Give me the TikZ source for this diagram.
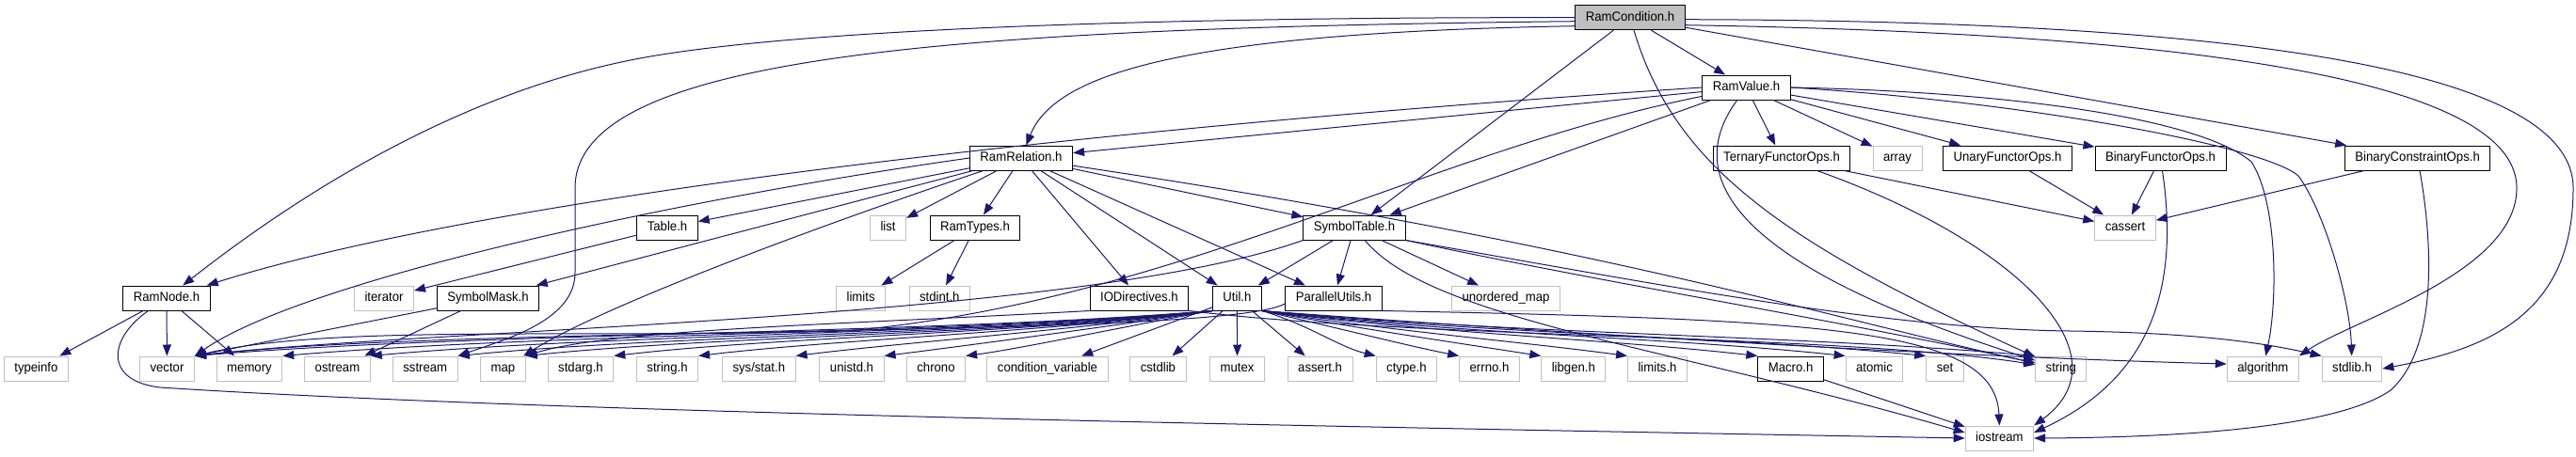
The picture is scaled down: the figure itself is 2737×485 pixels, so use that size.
\documentclass[tikz,border=0pt]{standalone}
\usepackage{fontspec}
\setmainfont{Liberation Sans}[FakeStretch=0.94]
\usetikzlibrary{arrows.meta}
\definecolor{edgeblue}{HTML}{191970}
\definecolor{greybox}{HTML}{BFBFBF}

\begin{document}
\begin{tikzpicture}[x=1pt,y=1pt,
  hdr/.style={draw=black,fill=white,line width=1pt,inner xsep=11pt,inner ysep=6.5pt,
    text height=10pt,text depth=3pt,font=\fontsize{14}{16}\selectfont},
  syshdr/.style={hdr,draw=greybox},
  roothdr/.style={hdr,fill=greybox},
  incl/.style={draw=edgeblue,line width=1pt,-{Triangle[length=12pt,width=9pt]}}]
  \useasboundingbox (0,0) rectangle (2737,-485);
  % row 0 and 1
  \node[roothdr] (rcond) at (1732,-18.7) {RamCondition.h};
  \node[hdr] (rvalue) at (1855.5,-93) {RamValue.h};
  % row 2
  \node[hdr] (rrel) at (1085,-168) {RamRelation.h};
  \node[hdr] (ternary) at (1893,-168) {TernaryFunctorOps.h};
  \node[syshdr] (arrayh) at (2016,-168) {array};
  \node[hdr] (unary) at (2133,-168) {UnaryFunctorOps.h};
  \node[hdr] (binary) at (2295.5,-168) {BinaryFunctorOps.h};
  \node[hdr] (bconstr) at (2568.6,-168) {BinaryConstraintOps.h};
  % row 3
  \node[hdr] (table) at (709,-242) {Table.h};
  \node[syshdr] (listh) at (943.6,-242) {list};
  \node[hdr] (rtypes) at (1036,-242) {RamTypes.h};
  \node[hdr] (symtab) at (1439,-242) {SymbolTable.h};
  \node[syshdr] (cassert) at (2258,-242) {cassert};
  % row 4
  \node[hdr] (rnode) at (177,-317) {RamNode.h};
  \node[syshdr] (iterator) at (408,-317) {iterator};
  \node[hdr] (symmask) at (518.5,-317) {SymbolMask.h};
  \node[syshdr] (limits) at (914.6,-317) {limits};
  \node[syshdr] (stdint) at (998.3,-317) {stdint.h};
  \node[hdr] (iodir) at (1210.4,-317) {IODirectives.h};
  \node[hdr] (util) at (1314.4,-317) {Util.h};
  \node[hdr] (parutil) at (1417,-317) {ParallelUtils.h};
  \node[syshdr] (umap) at (1600,-317) {unordered\_map};
  % row 5
  \node[syshdr] (typeinfo) at (38.4,-392) {typeinfo};
  \node[syshdr] (vector) at (177.5,-392) {vector};
  \node[syshdr] (memory) at (265,-392) {memory};
  \node[syshdr] (ostream) at (358.5,-392) {ostream};
  \node[syshdr] (sstream) at (451.8,-392) {sstream};
  \node[syshdr] (map) at (534.4,-392) {map};
  \node[syshdr] (stdarg) at (617,-392) {stdarg.h};
  \node[syshdr] (stringh) at (709,-392) {string.h};
  \node[syshdr] (sysstat) at (806.3,-392) {sys/stat.h};
  \node[syshdr] (unistd) at (905,-392) {unistd.h};
  \node[syshdr] (chrono) at (994.5,-392) {chrono};
  \node[syshdr] (condvar) at (1113,-392) {condition\_variable};
  \node[syshdr] (cstdlib) at (1230.4,-392) {cstdlib};
  \node[syshdr] (mutex) at (1314.6,-392) {mutex};
  \node[syshdr] (asserth) at (1402.6,-392) {assert.h};
  \node[syshdr] (ctype) at (1494.4,-392) {ctype.h};
  \node[syshdr] (errno) at (1582.5,-392) {errno.h};
  \node[syshdr] (libgen) at (1671.8,-392) {libgen.h};
  \node[syshdr] (limitsh) at (1761,-392) {limits.h};
  \node[hdr] (macro) at (1902.6,-392) {Macro.h};
  \node[syshdr] (atomic) at (1991.5,-392) {atomic};
  \node[syshdr] (set) at (2066.5,-392) {set};
  \node[syshdr] (string) at (2189.8,-392) {string};
  \node[syshdr] (algorithm) at (2404.3,-392) {algorithm};
  \node[syshdr] (stdlib) at (2499,-392) {stdlib.h};
  % row 6
  \node[syshdr] (iostream) at (2124.4,-466) {iostream};

  % RamCondition.h
  \draw[incl] (rcond.west) .. controls (1250,-18) and (852,-30) .. (680,-62) .. controls (465,-102) and (283,-234) .. (rnode);
  \draw[incl] ([yshift=-9pt]rcond.west) .. controls (1250,-35) and (1120,-80) .. (rrel);
  \draw[incl] ([yshift=-4pt]rcond.west) .. controls (1000,-30) and (611,-60) .. (611,-200) -- (611,-290) .. controls (611,-340) and (540,-360) .. (sstream.north east);
  \draw[incl] (rcond) -- (symtab);
  \draw[incl] (rcond) -- (rvalue);
  \draw[incl] (rcond) .. controls (1780,-180) and (1900,-260) .. (string);
  \draw[incl] (rcond) -- (bconstr);
  \draw[incl] ([yshift=-8pt]rcond.east) .. controls (2300,-35) and (2674,-80) .. (2674,-200) .. controls (2674,-290) and (2500,-340) .. (algorithm.north east);
  \draw[incl] ([yshift=-2pt]rcond.east) .. controls (2300,-22) and (2734,-60) .. (2734,-200) .. controls (2734,-330) and (2650,-370) .. (stdlib.east);

  % RamValue.h
  \draw[incl] (rvalue.west) .. controls (1100,-140) and (500,-215) .. (rnode);
  \draw[incl] (rvalue) -- (rrel);
  \draw[incl] (rvalue) -- (symtab);
  \draw[incl] (rvalue) .. controls (1520,-160) and (1250,-320) .. (900,-352) .. controls (600,-360) and (350,-345) .. (vector.north east);
  \draw[incl] (rvalue) .. controls (1770,-210) and (1900,-300) .. (string);
  \draw[incl] (rvalue) -- (ternary);
  \draw[incl] (rvalue) -- (arrayh);
  \draw[incl] (rvalue) -- (unary);
  \draw[incl] (rvalue) -- (binary);
  \draw[incl] (rvalue.east) .. controls (2150,-98) and (2340,-128) .. (2392,-172) .. controls (2420,-215) and (2420,-320) .. (algorithm);
  \draw[incl] (rvalue.east) .. controls (2150,-108) and (2405,-155) .. (2442,-187) .. controls (2470,-225) and (2497,-320) .. (stdlib);

  % RamRelation.h
  \draw[incl] (rrel.west) .. controls (700,-215) and (320,-300) .. (vector.north east);
  \draw[incl] (rrel) -- (table);
  \draw[incl] (rrel) -- (symmask);
  \draw[incl] (rrel) .. controls (900,-230) and (650,-320) .. (map);
  \draw[incl] (rrel) -- (listh);
  \draw[incl] (rrel) -- (rtypes);
  \draw[incl] (rrel) -- (iodir);
  \draw[incl] (rrel) -- (util);
  \draw[incl] (rrel) -- (parutil);
  \draw[incl] (rrel) -- (symtab);
  \draw[incl] (rrel) .. controls (1700,-260) and (1950,-340) .. (string);

  % Table.h, RamTypes.h, SymbolMask.h, RamNode.h
  \draw[incl] (table) -- (iterator);
  \draw[incl] (rtypes) -- (limits);
  \draw[incl] (rtypes) -- (stdint);
  \draw[incl] (symmask) -- (vector.north east);
  \draw[incl] (symmask) -- (ostream);
  \draw[incl] (rnode) -- (typeinfo);
  \draw[incl] (rnode) -- (vector);
  \draw[incl] (rnode) -- (memory);
  \draw[incl] (rnode) .. controls (115,-360) and (110,-405) .. (170,-412) .. controls (600,-440) and (1500,-455) .. (iostream.west);

  % SymbolTable.h
  \draw[incl] (symtab) -- (util);
  \draw[incl] (symtab) -- (parutil);
  \draw[incl] (symtab) -- (umap);
  \draw[incl] (symtab.south west) .. controls (1150,-340) and (450,-350) .. (vector.north east);
  \draw[incl] (symtab) .. controls (1520,-340) and (1780,-370) .. ([yshift=6pt]iostream.west);
  \draw[incl] (symtab.south east) .. controls (1700,-300) and (1950,-340) .. (string);
  \draw[incl] (symtab.south east) .. controls (1750,-300) and (2000,-350) .. (2200,-352) .. controls (2350,-354) and (2420,-368) .. (stdlib.north west);

  % IODirectives.h
  \draw[incl] (iodir.south west) .. controls (900,-345) and (650,-350) .. (map.north east);
  \draw[incl] (iodir.south east) .. controls (1500,-360) and (1950,-355) .. (string);

  % Util.h
  \draw[incl] (util.south west) .. controls +(-300,-25) and +(300,25) .. (vector.north east);
  \draw[incl] (util.south west) .. controls +(-280,-25) and +(280,24) .. (memory.north east);
  \draw[incl] (util.south west) .. controls +(-260,-25) and +(250,23) .. (ostream.north east);
  \draw[incl] (util.south west) .. controls +(-240,-25) and +(220,22) .. (sstream.north east);
  \draw[incl] (util.south west) .. controls +(-220,-25) and +(200,21) .. (map.north east);
  \draw[incl] (util.south west) .. controls +(-200,-24) and +(170,20) .. (stdarg.north east);
  \draw[incl] (util.south west) .. controls +(-170,-22) and +(140,17) .. (stringh.north east);
  \draw[incl] (util.south west) .. controls +(-140,-20) and +(110,14) .. (sysstat.north east);
  \draw[incl] (util.south west) .. controls +(-110,-17) and +(80,10) .. (unistd.north east);
  \draw[incl] (util.south west) .. controls +(-80,-14) and +(60,8) .. (chrono.north east);
  \draw[incl] (util) -- (condvar);
  \draw[incl] (util) -- (cstdlib);
  \draw[incl] (util) -- (mutex);
  \draw[incl] (util) -- (asserth);
  \draw[incl] (util.south east) .. controls +(50,-15) and +(-40,10) .. (ctype.north west);
  \draw[incl] (util.south east) .. controls +(80,-18) and +(-60,12) .. (errno.north west);
  \draw[incl] (util.south east) .. controls +(110,-20) and +(-90,14) .. (libgen.north west);
  \draw[incl] (util.south east) .. controls +(140,-22) and +(-120,16) .. (limitsh.north west);
  \draw[incl] (util.south east) .. controls +(180,-24) and +(-160,18) .. (macro.north west);
  \draw[incl] (util.south east) .. controls +(210,-25) and +(-190,20) .. (atomic.north west);
  \draw[incl] (util.south east) .. controls +(240,-25) and +(-210,21) .. (set.north west);
  \draw[incl] (util.south east) .. controls +(270,-25) and +(-250,22) .. (string.north west);
  \draw[incl] (util.south east) .. controls +(330,-25) and +(-300,8) .. ([yshift=5pt]algorithm.west);

  % ParallelUtils.h, Macro.h
  \draw[incl] ([yshift=-6pt]parutil.west) .. controls (1300,-360) and (500,-345) .. (vector.north east);
  \draw[incl] (parutil.south east) .. controls (1950,-340) and (2120,-350) .. (iostream.north);
  \draw[incl] (macro) -- (iostream);

  % functor and constraint ops
  \draw[incl] (ternary) -- (cassert);
  \draw[incl] (unary) -- (cassert);
  \draw[incl] (binary) -- (cassert);
  \draw[incl] (bconstr) -- (cassert);
  \draw[incl] (ternary) .. controls (2150,-260) and (2260,-380) .. (iostream.north east);
  \draw[incl] (binary) .. controls (2315,-300) and (2290,-400) .. ([yshift=6pt]iostream.east);
  \draw[incl] (bconstr) .. controls (2585,-260) and (2590,-370) .. (2540,-415) .. controls (2490,-450) and (2350,-465) .. (iostream.east);
\end{tikzpicture}
\end{document}
